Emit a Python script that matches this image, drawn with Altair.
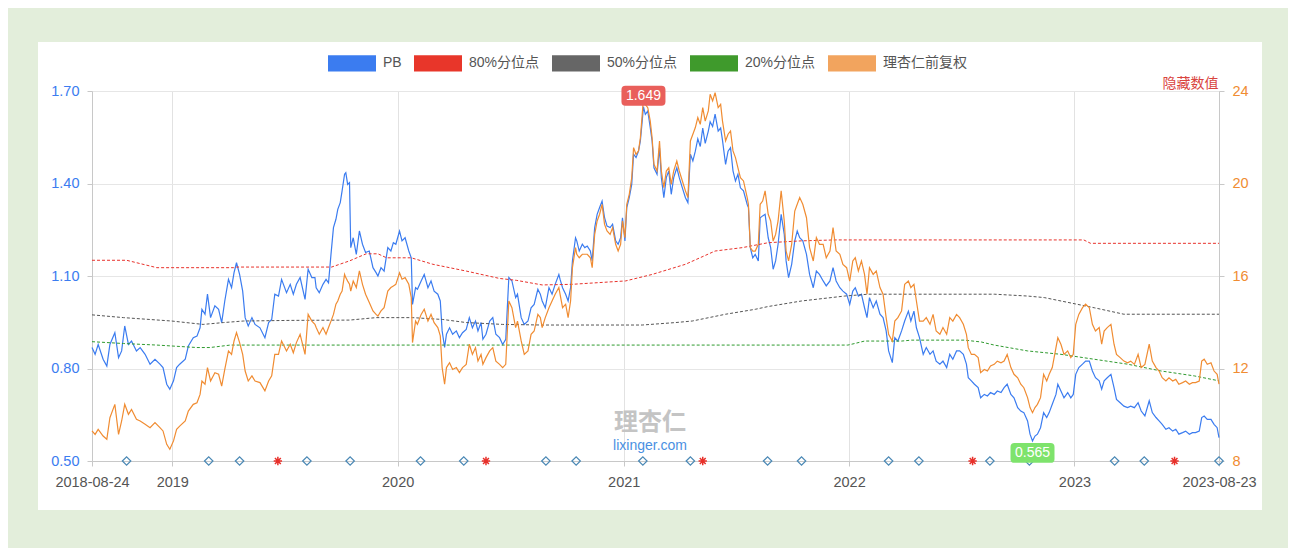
import altair as alt
import pandas as pd

START = "2018-08-24"

# days since START for each PB / price sample
pb_days = [
    0, 5, 10, 18, 24, 29, 37, 43, 48, 53, 59, 64, 72, 78, 86, 94, 102, 110, 115, 121,
    126, 132, 137, 142, 151, 156, 164, 170, 175, 178, 183, 187, 192, 199, 205, 210, 215, 221, 226, 230,
    234, 239, 244, 248, 253, 259, 264, 272, 280, 286, 291, 296, 302, 307, 315, 321, 326, 331, 337, 345,
    350, 356, 361,
    363, 368, 374, 379, 383, 387, 391, 395, 398, 402, 405, 409, 411, 414, 417, 419, 423, 428, 433, 438,
    443, 449, 455, 460, 463, 468, 473, 479, 484, 488, 492, 498, 502, 507, 513, 517, 519, 524, 527, 533,
    538, 544, 549, 554, 560, 564, 567, 571, 574, 579, 584, 590, 595, 600, 606, 611, 616, 621, 625, 630,
    633, 638, 644, 649, 654, 660, 665, 670, 675, 680, 686, 689, 695, 700, 706, 711, 716, 722, 726,
    729, 734, 740, 745, 750, 756, 758, 762, 767, 771, 775, 778, 783, 785, 789, 794, 798, 802, 807, 810,
    814, 818, 822, 826, 830, 834, 839, 843, 848, 852, 856, 859, 863, 866, 870, 874, 877, 881, 885, 888,
    891, 893, 896, 900, 904, 907, 910, 915, 919, 922, 926, 930, 934, 938, 942, 947, 951, 956, 961, 965,
    969, 973, 977, 981, 985, 989, 993, 998, 1001, 1005, 1009, 1014, 1018, 1021, 1026, 1030, 1034, 1038, 1042, 1046,
    1050, 1055, 1061, 1063, 1066, 1070, 1074, 1079, 1082, 1086, 1090,
    1095, 1099, 1103, 1107, 1111, 1116, 1121, 1124, 1128, 1133, 1138, 1142, 1146, 1151, 1157, 1162, 1168, 1173, 1178, 1184,
    1189, 1195, 1200, 1205, 1211, 1216, 1222, 1227, 1232, 1236, 1241, 1246, 1251, 1255, 1259, 1265, 1270, 1276, 1281, 1286,
    1290, 1296, 1300, 1305, 1311, 1316, 1322, 1326, 1331, 1335, 1340, 1346, 1351, 1357, 1362, 1367, 1373, 1378, 1384, 1389,
    1394, 1400, 1405, 1411, 1416, 1419, 1424, 1429, 1435, 1439, 1445, 1450, 1455,
    1461, 1466, 1472, 1477, 1482, 1488, 1493, 1499, 1504, 1509, 1515, 1519, 1523, 1527, 1531, 1536, 1541, 1546, 1550, 1555,
    1561, 1564, 1569, 1574, 1580, 1585, 1589, 1593, 1598, 1604, 1609, 1615, 1620, 1625, 1631, 1635, 1639, 1644, 1650, 1655,
    1659, 1665, 1671, 1677, 1682, 1688, 1694, 1699, 1705, 1712, 1717, 1723, 1728, 1733, 1739, 1744, 1750, 1755, 1760, 1766,
    1771, 1777, 1782, 1787, 1793, 1797, 1801, 1806, 1812, 1817, 1822, 1825,
]

pb_vals = [
    0.868, 0.846, 0.878, 0.830, 0.808, 0.878, 0.916, 0.835, 0.857, 0.938, 0.878, 0.889, 0.857, 0.868, 0.846, 0.814, 0.830, 0.814, 0.803, 0.749,
    0.733, 0.760, 0.803, 0.814, 0.830, 0.873, 0.900, 0.905, 0.932, 0.992, 0.976, 1.041, 0.965, 1.003, 0.992, 0.949, 1.019, 1.089, 1.062, 1.111,
    1.143, 1.105, 1.051, 0.965, 0.938, 0.965, 0.943, 0.932, 0.900, 0.949, 0.959, 1.041, 1.035, 1.089, 1.046, 1.073, 1.041, 1.073, 1.095, 1.024,
    1.122, 1.095, 1.095,
    1.062, 1.046, 1.073, 1.089, 1.078, 1.170, 1.257, 1.284, 1.316, 1.338, 1.376, 1.430, 1.435, 1.397, 1.403, 1.192, 1.224, 1.170, 1.246, 1.203,
    1.176, 1.181, 1.127, 1.111, 1.100, 1.127, 1.116, 1.192, 1.181, 1.208, 1.203, 1.246, 1.214, 1.224, 1.181, 1.159, 1.008, 1.062, 1.057, 1.084,
    1.105, 1.062, 1.084, 1.051, 1.041, 1.019, 0.922, 0.868, 0.911, 0.932, 0.911, 0.922, 0.900, 0.916, 0.927, 0.965, 0.932, 0.954, 0.922, 0.949,
    0.895, 0.911, 0.954, 0.965, 0.911, 0.900, 0.878, 0.895, 1.095, 1.084, 1.030, 1.041, 0.965, 0.943, 0.954, 0.997, 1.008, 1.057, 1.041,
    1.019, 0.997, 1.062, 1.041, 1.073, 1.105, 1.089, 1.062, 1.041, 1.019, 1.062, 1.149, 1.224, 1.214, 1.181, 1.203, 1.192, 1.197, 1.181, 1.149,
    1.257, 1.300, 1.322, 1.343, 1.289, 1.262, 1.257, 1.268, 1.214, 1.203, 1.224, 1.289, 1.214, 1.322, 1.354, 1.397, 1.495, 1.484, 1.505, 1.538,
    1.603, 1.649, 1.624, 1.635, 1.581, 1.538, 1.451, 1.430, 1.516, 1.419, 1.354, 1.419, 1.441, 1.365, 1.419, 1.451, 1.419, 1.386, 1.354, 1.338,
    1.495, 1.473, 1.505, 1.545, 1.520, 1.580, 1.530, 1.570, 1.600, 1.585, 1.625, 1.570, 1.580, 1.540, 1.462, 1.505, 1.516, 1.441, 1.408, 1.430,
    1.386, 1.376, 1.332, 1.322, 1.192, 1.159, 1.170, 1.149, 1.289, 1.295, 1.300,
    1.224, 1.192, 1.122, 1.149, 1.203, 1.300, 1.235, 1.149, 1.095, 1.138, 1.214, 1.246, 1.224, 1.214, 1.170, 1.105, 1.062, 1.116, 1.105, 1.084,
    1.068, 1.084, 1.127, 1.084, 1.062, 1.051, 1.041, 1.008, 1.051, 1.062, 1.035, 1.041, 0.997, 0.965, 1.030, 0.997, 1.019, 0.976, 0.965, 0.922,
    0.857, 0.819, 0.900, 0.889, 0.922, 0.954, 0.986, 0.954, 0.986, 0.932, 0.900, 0.846, 0.868, 0.846, 0.857, 0.824, 0.814, 0.824, 0.803, 0.846,
    0.830, 0.857, 0.857, 0.846, 0.814, 0.770, 0.760, 0.749, 0.738, 0.705, 0.716, 0.711, 0.722,
    0.716, 0.727, 0.722, 0.738, 0.749, 0.716, 0.705, 0.673, 0.662, 0.657, 0.630, 0.587, 0.565, 0.581, 0.587, 0.608, 0.657, 0.641, 0.657, 0.684,
    0.716, 0.749, 0.727, 0.705, 0.722, 0.705, 0.716, 0.781, 0.803, 0.814, 0.824, 0.824, 0.792, 0.770, 0.760, 0.733, 0.760, 0.770, 0.781, 0.738,
    0.700, 0.689, 0.678, 0.673, 0.678, 0.673, 0.689, 0.662, 0.646, 0.695, 0.657, 0.641, 0.630, 0.619, 0.603, 0.608, 0.597, 0.603, 0.587, 0.592,
    0.597, 0.587, 0.592, 0.592, 0.597, 0.641, 0.646, 0.635, 0.635, 0.619, 0.608, 0.576,
]

price_vals = [
    9.30, 9.15, 9.37, 9.08, 8.94, 9.87, 10.45, 9.15, 9.73, 10.45, 10.02, 10.23, 9.80, 9.73, 9.59, 9.44, 9.66, 9.44, 9.30, 8.72,
    8.51, 8.87, 9.37, 9.51, 9.73, 10.16, 10.45, 10.52, 10.88, 11.46, 11.32, 12.04, 11.46, 11.82, 11.75, 11.24, 11.96, 12.76, 12.61, 13.19,
    13.55, 13.12, 12.61, 11.89, 11.46, 11.68, 11.46, 11.39, 11.03, 11.46, 11.68, 12.61, 12.61, 13.19, 12.76, 13.05, 12.68, 13.12, 13.48, 12.61,
    14.34, 14.05, 13.91,
    13.77, 13.48, 13.77, 13.48, 13.77, 14.05, 14.34, 14.78, 14.92, 15.21, 15.35, 16.07, 15.93, 15.78, 15.64, 15.35, 15.78, 15.50, 16.22, 15.64,
    15.21, 14.85, 14.49, 14.34, 14.27, 14.49, 14.63, 15.35, 15.50, 15.57, 15.64, 16.14, 15.86, 15.93, 15.64, 15.06, 13.12, 14.05, 13.91, 14.34,
    14.56, 14.05, 14.34, 13.98, 13.77, 13.41, 12.04, 11.32, 12.04, 12.25, 11.96, 12.04, 11.82, 12.04, 12.18, 13.05, 12.61, 12.90, 12.32, 12.61,
    12.18, 12.47, 12.76, 12.90, 12.32, 12.18, 12.04, 12.18, 14.92, 14.63, 13.77, 14.05, 13.19, 12.61, 12.76, 13.48, 13.62, 14.34, 14.20,
    13.77, 14.20, 14.63, 14.92, 15.21, 15.50, 15.21, 14.63, 14.78, 14.20, 14.92, 16.36, 17.23, 16.94, 16.79, 16.94, 16.94, 16.94, 16.79, 16.36,
    17.80, 18.38, 18.67, 19.10, 18.23, 17.95, 17.80, 18.09, 17.37, 17.08, 17.37, 18.38, 17.66, 19.10, 19.53, 20.25, 21.55, 21.26, 21.41, 21.98,
    22.99, 23.71, 23.42, 23.28, 22.70, 21.98, 20.83, 20.54, 21.84, 20.54, 19.82, 20.54, 20.68, 19.96, 20.54, 20.97, 20.54, 20.11, 19.68, 19.39,
    21.84, 22.13, 22.42, 22.85, 22.56, 23.28, 22.70, 23.14, 23.86, 23.57, 23.93, 23.28, 23.42, 22.70, 21.84, 22.13, 22.27, 21.41, 21.12, 20.68,
    20.25, 20.11, 19.39, 19.10, 17.23, 17.08, 17.08, 17.37, 19.10, 19.24, 19.68,
    18.67, 18.38, 17.51, 17.80, 18.38, 19.68, 18.38, 17.08, 16.65, 17.37, 18.81, 19.10, 19.39, 19.10, 18.52, 17.23, 16.65, 17.66, 17.37, 17.37,
    16.79, 17.08, 18.09, 17.08, 16.94, 16.50, 16.36, 15.78, 16.65, 16.79, 16.22, 16.65, 16.07, 15.21, 16.36, 16.07, 16.22, 15.50, 15.21, 14.20,
    13.48, 13.19, 14.05, 14.20, 14.49, 15.64, 15.78, 15.50, 15.64, 14.92, 14.05, 14.05, 14.20, 13.91, 14.34, 13.62, 13.48, 13.77, 13.48, 14.20,
    14.05, 14.34, 14.20, 13.91, 13.48, 12.90, 12.61, 12.61, 12.47, 11.82, 11.96, 11.89, 12.11,
    12.18, 12.32, 12.25, 12.32, 12.61, 12.04, 11.75, 11.60, 11.32, 11.17, 10.74, 10.31, 10.09, 10.31, 10.45, 10.74, 11.75, 11.46, 11.75, 12.04,
    12.90, 13.33, 13.05, 12.61, 12.76, 12.47, 12.61, 13.91, 14.34, 14.63, 14.78, 14.63, 13.91, 13.62, 13.77, 13.05, 13.62, 13.77, 13.91, 13.05,
    12.61, 12.47, 12.32, 12.25, 12.32, 12.18, 12.61, 12.04, 12.18, 13.05, 12.32, 12.04, 11.89, 11.60, 11.46, 11.60, 11.46, 11.53, 11.32, 11.39,
    11.46, 11.32, 11.39, 11.39, 11.46, 12.32, 12.40, 12.18, 12.25, 11.89, 11.75, 11.32,
]

q80_days = [0, 56, 105, 229, 234, 388, 417, 444, 463, 477, 517, 552, 606, 660, 687, 729, 777, 864, 907, 961,
            1009, 1053, 1095, 1149, 1203, 1606, 1617, 1825]
q80_vals = [1.151, 1.151, 1.127, 1.127, 1.129, 1.129, 1.149, 1.172, 1.172, 1.159, 1.159, 1.138, 1.116, 1.092, 1.086,
            1.071, 1.073, 1.084, 1.105, 1.138, 1.181, 1.192, 1.208, 1.214, 1.217, 1.217, 1.206, 1.206]

q50_days = [0, 51, 129, 180, 213, 245, 321, 417, 460, 519, 568, 606, 665, 729, 891, 945, 972, 1026, 1074, 1095,
            1149, 1219, 1257, 1461, 1515, 1542, 1596, 1623, 1671, 1825]
q50_vals = [0.974, 0.965, 0.954, 0.943, 0.949, 0.954, 0.956, 0.957, 0.965, 0.965, 0.959, 0.949, 0.943, 0.941, 0.941,
            0.949, 0.954, 0.976, 0.992, 1.001, 1.019, 1.035, 1.041, 1.041, 1.035, 1.030, 1.008, 0.997, 0.976, 0.976]

q20_days = [0, 51, 105, 170, 191, 224, 1224, 1235, 1251, 1311, 1327, 1413, 1440, 1461, 1515, 1569, 1623, 1677,
            1731, 1785, 1825]
q20_vals = [0.887, 0.881, 0.876, 0.868, 0.868, 0.876, 0.876, 0.881, 0.889, 0.889, 0.892, 0.892, 0.886, 0.876,
            0.857, 0.846, 0.830, 0.814, 0.792, 0.776, 0.760]

report_dates = ["2018-10-19", "2019-03-01", "2019-04-20", "2019-08-07", "2019-10-16", "2020-02-07",
                "2020-04-17", "2020-08-28", "2020-10-16", "2021-02-01", "2021-04-19", "2021-08-22",
                "2021-10-16", "2022-03-06", "2022-04-24", "2022-08-17", "2022-10-20", "2023-03-07",
                "2023-04-24", "2023-08-23"]
dividend_dates = ["2019-06-21", "2020-05-23", "2021-05-09", "2022-07-20", "2023-06-12"]

series_names = ["PB", "80%分位点", "50%分位点", "20%分位点", "理杏仁前复权"]
legend_colors = ["#3b7cf0", "#e8362a", "#666666", "#3f9a2c", "#f2a45e"]

left_ticks = [0.5, 0.8, 1.1, 1.4, 1.7]
right_ticks = [8, 12, 16, 20, 24]

# ---------------------------------------------------------------
start = pd.Timestamp(START)


def to_dates(days):
    return start + pd.to_timedelta(days, unit="D")


main_df = pd.DataFrame({"date": to_dates(pb_days), "pb": pb_vals, "price": price_vals})
q80_df = pd.DataFrame({"date": to_dates(q80_days), "v": q80_vals})
q50_df = pd.DataFrame({"date": to_dates(q50_days), "v": q50_vals})
q20_df = pd.DataFrame({"date": to_dates(q20_days), "v": q20_vals})
rep_df = pd.DataFrame({"date": pd.to_datetime(report_dates)})
div_df = pd.DataFrame({"date": pd.to_datetime(dividend_dates)})
max_df = main_df.loc[[main_df["pb"].idxmax()]]
min_df = main_df.loc[[main_df["pb"].idxmin()]]
legend_df = pd.DataFrame({"series": series_names})

FONT = "Liberation Sans, Noto Sans CJK SC, sans-serif"

x_scale = alt.Scale(domain=[alt.DateTime(year=2018, month=8, date=24),
                            alt.DateTime(year=2023, month=8, date=23)],
                    range=[54, 1181])
yl_scale = alt.Scale(domain=[0.5, 1.7], range=[419, 49], nice=False, zero=False)
yr_scale = alt.Scale(domain=[8, 24], range=[419, 49], nice=False, zero=False)

x_axis = alt.Axis(
    values=[alt.DateTime(year=2018, month=8, date=24), alt.DateTime(year=2019, month=1, date=1),
            alt.DateTime(year=2020, month=1, date=1), alt.DateTime(year=2021, month=1, date=1),
            alt.DateTime(year=2022, month=1, date=1), alt.DateTime(year=2023, month=1, date=1),
            alt.DateTime(year=2023, month=8, date=23)],
    labelExpr="timeFormat(datum.value, '%m-%d') == '01-01' ? timeFormat(datum.value, '%Y') : timeFormat(datum.value, '%Y-%m-%d')",
    grid=True, gridColor="#e2e2e2", gridWidth=1,
    domainColor="#c8c8c8", tickColor="#c8c8c8", tickSize=5,
    labelColor="#555555", labelFontSize=14.5, labelFont=FONT, labelPadding=9,
    labelOverlap=False, labelBound=False, labelFlush=False,
    offset=-49, title=None,
)
yl_axis = alt.Axis(
    values=left_ticks, format=".2f", grid=True, gridColor="#e6e6e6", gridWidth=1.2,
    domainColor="#c8c8c8", tickColor="#c8c8c8", tickSize=5,
    labelColor="#3b7cf0", labelFontSize=14.5, labelFont=FONT, labelPadding=8,
    offset=-54, title=None,
)
yr_axis = alt.Axis(
    orient="right", values=right_ticks, grid=False,
    domainColor="#c8c8c8", tickColor="#c8c8c8", tickSize=5,
    labelColor="#f08c32", labelFontSize=14.5, labelFont=FONT, labelPadding=8,
    offset=-43,
    title="隐藏数值", titleAngle=0, titleX=-1, titleY=41.5, titleAlign="right",
    titleBaseline="middle", titleColor="#d9443e", titleFontSize=14, titleFontWeight="normal",
    titleFont=FONT,
)


def X():
    return alt.X("date:T", scale=x_scale, axis=x_axis)


pb_line = alt.Chart(main_df).mark_line(color="#3b7cf0", strokeWidth=1.2).encode(
    x=X(), y=alt.Y("pb:Q", scale=yl_scale, axis=yl_axis))
price_line = alt.Chart(main_df).mark_line(color="#f08c32", strokeWidth=1.2).encode(
    x=X(), y=alt.Y("price:Q", scale=yr_scale, axis=yr_axis))


def qline(df, color):
    return alt.Chart(df).mark_line(color=color, strokeWidth=1, strokeDash=[3, 2]).encode(
        x=X(), y=alt.Y("v:Q", scale=yl_scale, axis=None))


q80 = qline(q80_df, "#e8322b")
q50 = qline(q50_df, "#555555")
q20 = qline(q20_df, "#2f9a2f")

diamonds = alt.Chart(rep_df).mark_point(shape="diamond", filled=False, size=72, color="#4a88b5",
                                        strokeWidth=1.2, opacity=1).encode(
    x=X(), y=alt.YDatum(0.5, scale=yl_scale, axis=None))
STAR = "M0,-1L0,1M-1,0L1,0M-0.7,-0.7L0.7,0.7M-0.7,0.7L0.7,-0.7"
stars = alt.Chart(div_df).mark_point(shape=STAR, filled=False, size=70, color="#e8302a",
                                     strokeWidth=1.5, opacity=1).encode(
    x=X(), y=alt.YDatum(0.5, scale=yl_scale, axis=None))

BADGE = ("M-0.82,-0.45L0.82,-0.45Q1,-0.45 1,-0.27L1,0.27Q1,0.45 0.82,0.45L-0.82,0.45"
         "Q-1,0.45 -1,0.27L-1,-0.27Q-1,-0.45 -0.82,-0.45Z")


def badge(df, color, dy):
    b = alt.Chart(df).mark_point(shape=BADGE, filled=True, size=1936, color=color, opacity=1,
                                 yOffset=dy).encode(
        x=X(), y=alt.Y("pb:Q", scale=yl_scale, axis=None))
    t = alt.Chart(df).mark_text(color="white", fontSize=14, font=FONT, yOffset=dy,
                                baseline="middle").encode(
        x=X(), y=alt.Y("pb:Q", scale=yl_scale, axis=None), text=alt.Text("pb:Q", format=".3f"))
    return [b, t]


RECT = "M-1,-0.34L1,-0.34L1,0.34L-1,0.34Z"
legend_layer = alt.Chart(legend_df).mark_point(shape=RECT, filled=True, size=2304, opacity=1).encode(
    fill=alt.Fill("series:N", scale=alt.Scale(domain=series_names, range=legend_colors),
                  legend=alt.Legend(orient="none", legendX=290, legendY=-3, direction="horizontal",
                                    title=None, symbolType=RECT, symbolSize=2304, symbolOpacity=1,
                                    symbolStrokeWidth=0, labelFontSize=14, labelColor="#555555",
                                    labelFont=FONT, labelOffset=7, columnPadding=12, padding=0))
).transform_filter("false")

layers = [pb_line, q80, q50, q20, price_line, diamonds, stars] + badge(max_df, "#e95f5b", -11) + \
    badge(min_df, "#7ee36c", 12) + [legend_layer]

chart = alt.layer(*layers).resolve_scale(y="independent").properties(
    width=1224, height=468,
    autosize=alt.AutoSizeParams(type="none"),
    padding={"left": 30, "top": 34, "right": 26, "bottom": 38},
    background="#e3eedb",
    view=alt.ViewBackground(fill="white", strokeWidth=0),
    title=alt.TitleParams(text="理杏仁", subtitle="lixinger.com", orient="bottom", anchor="middle",
                          frame="group", fontSize=24, color="#c4c4c4", font="Noto Sans CJK SC",
                          fontWeight="bold", subtitleColor="#4a90e2", subtitleFontSize=14,
                          subtitleFont=FONT, subtitlePadding=4, dy=-99, offset=0),
).configure_view(fill="white", strokeWidth=0)

chart.save("out.html", embed_options={"renderer": "svg", "actions": False})
